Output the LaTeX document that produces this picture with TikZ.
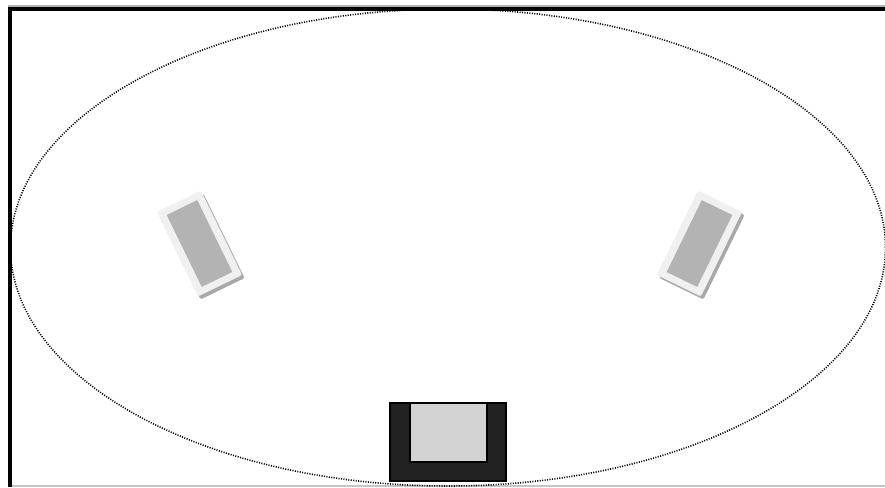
\documentclass[tikz,border=0pt]{standalone}
\usepackage{tikz}

\definecolor{panel}{HTML}{F0F0F0}
\definecolor{cone}{HTML}{B3B3B3}
\definecolor{shade}{HTML}{A8A8A8}
\definecolor{cabinet}{HTML}{222222}
\definecolor{screen}{HTML}{D3D3D3}

\tikzset{
    speakerbox/.style={fill=panel, rounded corners=0.6pt},
    speakercone/.style={fill=cone},
    speakershadow/.style={fill=shade, rounded corners=0.6pt}
}

\begin{document}
\begin{tikzpicture}
    \useasboundingbox (0, 0) rectangle (8.85, 4.87);

    % Room outline
    \draw[gray!45, line width=0.45pt] (0.08, 0.01) -- (8.85, 0.01);
    \draw[gray!60, line width=0.4pt] (0.08, 4.81) -- (8.85, 4.81);

    % Walls
    \draw[line width=1.15pt] (0.10, 0) -- (0.10, 4.78) -- (8.85, 4.78);

    % Listening area
    \draw[line width=0.45pt, dash pattern=on 0.3pt off 0.4pt] (4.48, 2.395) ellipse (4.375 and 2.385);

    % Left speaker
    \begin{scope}[shift={(2.02, 2.405)}, rotate=26]
        \fill[speakershadow] (-0.245, -0.47) rectangle (0.245, 0.47);
    \end{scope}
    \begin{scope}[shift={(1.995, 2.435)}, rotate=26]
        \fill[speakerbox] (-0.245, -0.47) rectangle (0.245, 0.47);
        \fill[speakercone] (-0.17, -0.40) rectangle (0.17, 0.40);
    \end{scope}

    % Right speaker
    \begin{scope}[shift={(7.02, 2.405)}, rotate=-26]
        \fill[speakershadow] (-0.245, -0.47) rectangle (0.245, 0.47);
    \end{scope}
    \begin{scope}[shift={(6.995, 2.435)}, rotate=-26]
        \fill[speakerbox] (-0.245, -0.47) rectangle (0.245, 0.47);
        \fill[speakercone] (-0.17, -0.40) rectangle (0.17, 0.40);
    \end{scope}

    % Screen
    \filldraw[fill=cabinet, draw=black, line width=0.4pt] (3.90, 0.06) rectangle (5.06, 0.84);
    \filldraw[fill=screen, draw=black, line width=0.5pt] (4.10, 0.25) rectangle (4.87, 0.84);
\end{tikzpicture}
\end{document}
